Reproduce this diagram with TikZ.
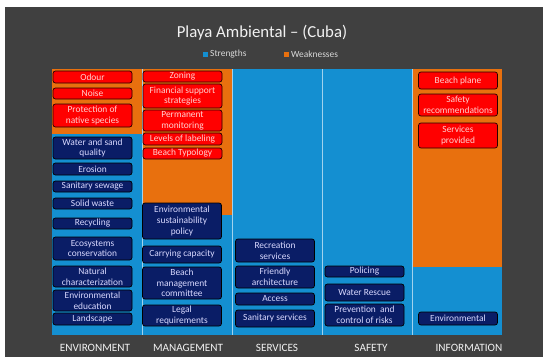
\documentclass[tikz,border=0pt]{standalone}
\usepackage{fontspec}
\setmainfont{Carlito}
\usepackage{xcolor}
\usetikzlibrary{positioning}
\definecolor{chartbg}{HTML}{404040}
\definecolor{weakorange}{HTML}{E8700E}
\definecolor{strongblue}{HTML}{148FD1}
\definecolor{weakred}{HTML}{FF0000}
\definecolor{strongnavy}{HTML}{0A1D66}
\tikzset{
    beachweak/.style={draw=black!85!red, line width=0.7pt, fill=weakred, rounded corners=2.5pt, align=center, inner sep=0pt, minimum width=79pt, text=white!82!red, font=\fontsize{9.4}{10.6}\selectfont},
    beachstrong/.style={draw=black, line width=0.7pt, fill=strongnavy, rounded corners=2.5pt, align=center, inner sep=0pt, minimum width=79pt, text=white!85!blue, font=\fontsize{9.4}{10.6}\selectfont},
    beachcat/.style={text=white!95!black, font=\fontsize{11.2}{13}\selectfont},
    beachkey/.style={text=white!85!black, font=\fontsize{9.4}{11}\selectfont, anchor=west, inner sep=0pt},
    beachsep/.style={draw=white!60!strongblue, line width=0.6pt}
}

\begin{document}
\begin{tikzpicture}[x=1pt, y=-1pt]
    \useasboundingbox (0,0) rectangle (550,364);
    \fill[chartbg] (5,7) rectangle (543,357);

    % stacked bars
    \fill[weakorange] (52,69) rectangle (142,134);
    \fill[strongblue] (52,134) rectangle (142,335);
    \fill[weakorange] (142,69) rectangle (232,215);
    \fill[strongblue] (142,215) rectangle (232,335);
    \fill[strongblue] (232,69) rectangle (322,335);
    \fill[strongblue] (322,69) rectangle (412,335);
    \fill[weakorange] (412,69) rectangle (502,267);
    \fill[strongblue] (412,267) rectangle (502,335);
    \foreach \sx in {142,232,322,412}
        \draw[beachsep] (\sx,69) -- (\sx,335);

    \node[text=white!95!black, font=\fontsize{16.8}{20}\selectfont] (title) at (262,33) {Playa Ambiental -- (Cuba)};
    \fill[strongblue] (202.5,51.5) rectangle (207.5,56.5);
    \node[beachkey] (keystrong) at (210,54) {Strengths};
    \fill[weakorange] (283.5,51.5) rectangle (288.5,56.5);
    \node[beachkey] (keyweak) at (291,54) {Weaknesses};

    % ENVIRONMENT
    \node[beachweak, minimum height=12pt] (odour) at (92.5,77) {Odour};
    \node[beachweak, minimum height=11pt] (noise) at (92.5,93.5) {Noise};
    \node[beachweak, minimum height=23pt] (native) at (92.5,115.5) {Protection of\\native species};
    \node[beachstrong, minimum height=22pt] (water) at (92.5,148) {Water and sand\\quality};
    \node[beachstrong, minimum height=12pt] (erosion) at (92.5,169) {Erosion};
    \node[beachstrong, minimum height=11pt] (sewage) at (92.5,186.5) {Sanitary sewage};
    \node[beachstrong, minimum height=11pt] (solid) at (92.5,203.5) {Solid waste};
    \node[beachstrong, minimum height=11pt] (recycling) at (92.5,223.5) {Recycling};
    \node[beachstrong, minimum height=23pt] (ecosystems) at (92.5,248.5) {Ecosystems\\conservation};
    \node[beachstrong, minimum height=21pt] (natural) at (92.5,276.5) {Natural\\characterization};
    \node[beachstrong, minimum height=21pt] (education) at (92.5,300.5) {Environmental\\education};
    \node[beachstrong, minimum height=12pt] (landscape) at (92.5,319) {Landscape};

    % MANAGEMENT
    \node[beachweak, minimum height=11pt] (zoning) at (182.5,76.5) {Zoning};
    \node[beachweak, minimum height=24pt] (financial) at (182.5,96) {Financial support\\strategies};
    \node[beachweak, minimum height=21pt] (monitoring) at (182.5,120.5) {Permanent\\monitoring};
    \node[beachweak, minimum height=12pt] (labeling) at (182.5,139) {Levels of labeling};
    \node[beachweak, minimum height=11pt] (typology) at (182.5,153.5) {Beach Typology};
    \node[beachstrong, minimum height=36pt] (policy) at (182,221) {Environmental\\sustainability\\policy};
    \node[beachstrong, minimum height=17pt] (carrying) at (182,254.5) {Carrying capacity};
    \node[beachstrong, minimum height=32pt] (committee) at (182,283) {Beach\\management\\committee};
    \node[beachstrong, minimum height=21pt] (legal) at (182,315.5) {Legal\\requirements};

    % SERVICES
    \node[beachstrong, minimum height=23pt] (recreation) at (275,250.5) {Recreation\\services};
    \node[beachstrong, minimum height=22pt] (friendly) at (275,277) {Friendly\\architecture};
    \node[beachstrong, minimum height=12pt] (access) at (275,299) {Access};
    \node[beachstrong, minimum height=17pt] (sanitary) at (275,318.5) {Sanitary services};

    % SAFETY
    \node[beachstrong, minimum height=11pt] (policing) at (364.5,271.5) {Policing};
    \node[beachstrong, minimum height=17pt] (rescue) at (364.5,292.5) {Water Rescue};
    \node[beachstrong, minimum height=22pt] (risks) at (364.5,315) {Prevention~ and\\control of risks};

    % INFORMATION
    \node[beachweak, minimum height=17pt] (plane) at (458,80.5) {Beach plane};
    \node[beachweak, minimum height=22pt] (recommend) at (458,105) {Safety\\recommendations};
    \node[beachweak, minimum height=25pt] (provided) at (458,135.5) {Services\\provided};
    \node[beachstrong, minimum height=13pt] (environmental) at (458,318.5) {Environmental};

    \node[beachcat] (catenv) at (95,348) {ENVIRONMENT};
    \node[beachcat] (catman) at (188,348) {MANAGEMENT};
    \node[beachcat] (catser) at (277,348) {SERVICES};
    \node[beachcat] (catsaf) at (371,348) {SAFETY};
    \node[beachcat] (catinf) at (469,348) {INFORMATION};
\end{tikzpicture}
\end{document}
